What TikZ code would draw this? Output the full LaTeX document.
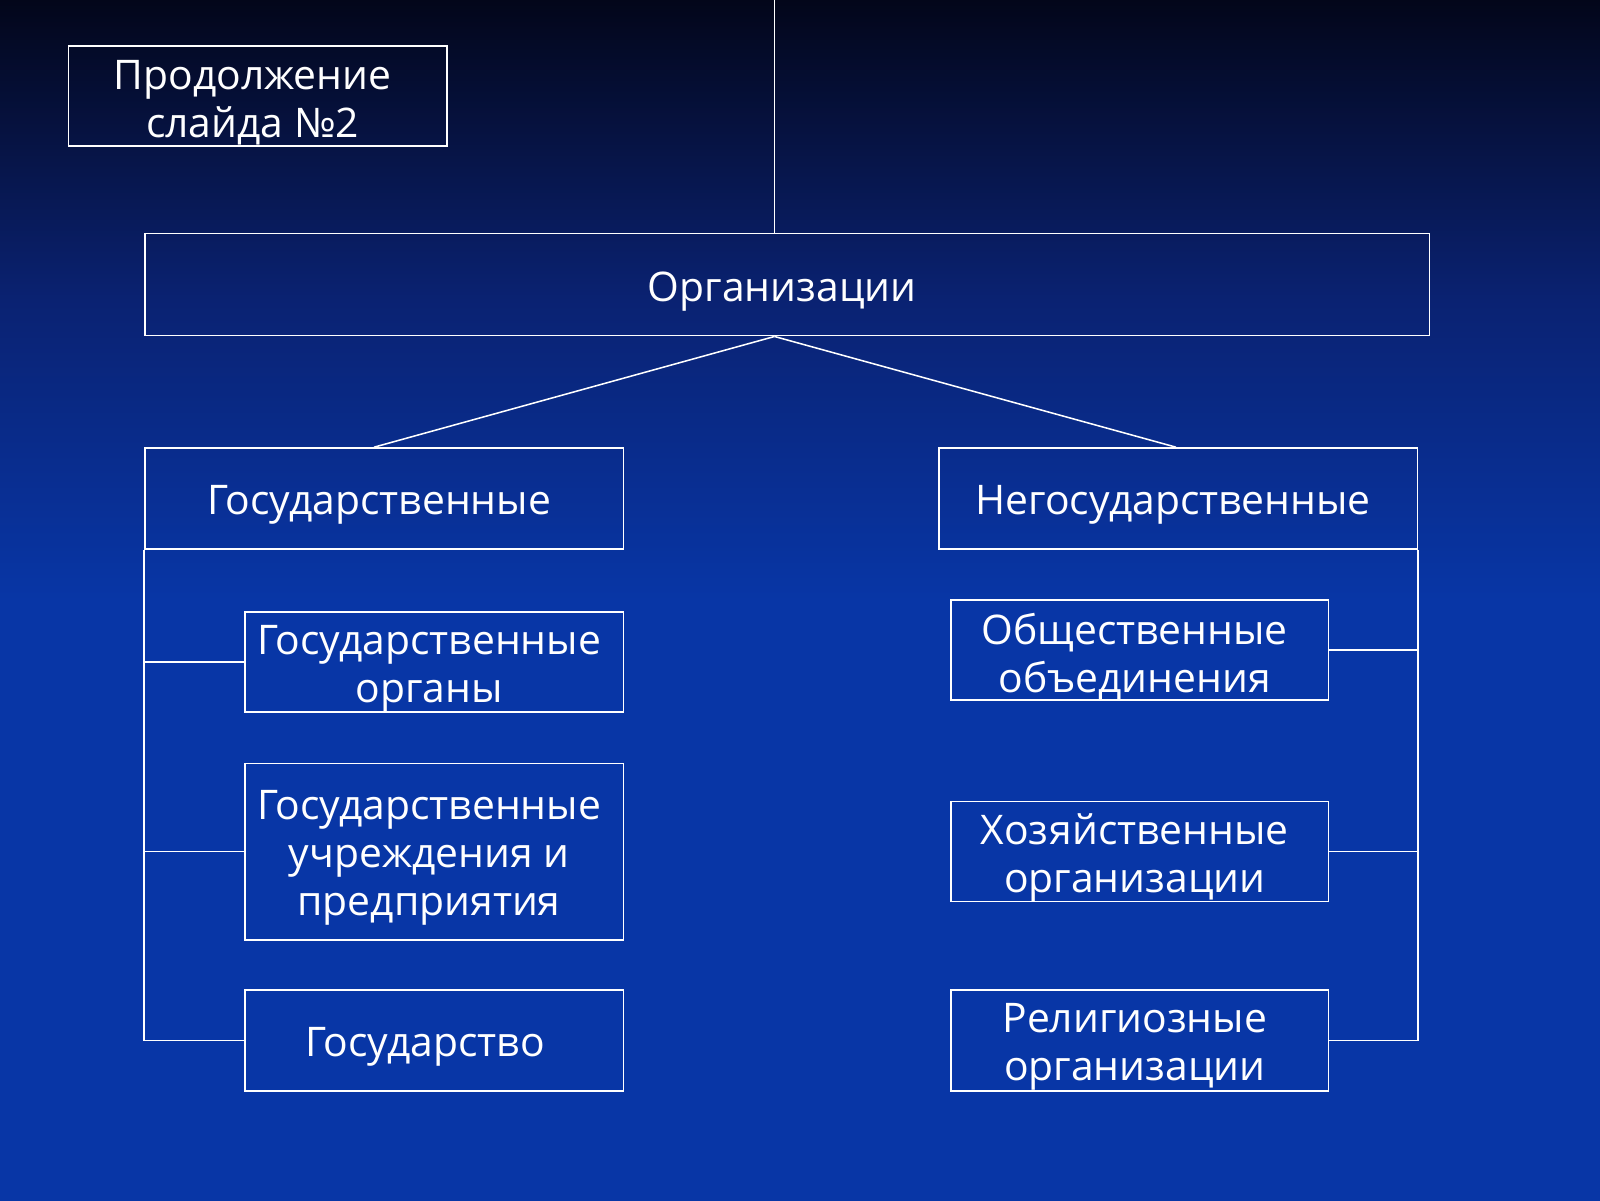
\documentclass[tikz,border=0pt]{standalone}
\usepackage{fontspec}
\setmainfont{Open Sans}
\usetikzlibrary{calc}
\definecolor{bgtop}{HTML}{03061A}
\definecolor{bgmid}{HTML}{0A2272}
\definecolor{bgbot}{HTML}{0836A6}
\pgfdeclareverticalshading{slidebg}{100bp}{color(0bp)=(bgbot); color(50bp)=(bgbot); color(62.5bp)=(bgmid); color(75bp)=(bgtop); color(100bp)=(bgtop)}
\begin{document}
\begin{tikzpicture}[x=1pt,y=-1pt,
  box/.style={draw=white, line width=1.5pt, inner sep=0pt},
  txt/.style={text=white, inner sep=0pt, align=center, font=\fontsize{40}{47}\selectfont},
  conn/.style={draw=white, line width=1.5pt}]
\shade[shading=slidebg] (0,0) rectangle (1568,1176);
\useasboundingbox (0,0) rectangle (1568,1176);
% boxes
\node[box, minimum width=371pt, minimum height=98pt] (title) at (252.5,94) {};
\node[box, minimum width=1259pt, minimum height=100pt] (org) at (771.5,279) {};
\node[box, minimum width=469pt, minimum height=99pt] (gos) at (376.5,488.5) {};
\node[box, minimum width=469pt, minimum height=99pt] (ngos) at (1154.5,488.5) {};
\node[box, minimum width=371pt, minimum height=98pt] (go) at (425.5,649) {};
\node[box, minimum width=371pt, minimum height=173pt] (gu) at (425.5,834.5) {};
\node[box, minimum width=371pt, minimum height=99pt] (gd) at (425.5,1019.5) {};
\node[box, minimum width=370pt, minimum height=98pt] (oo) at (1117,637) {};
\node[box, minimum width=370pt, minimum height=98pt] (ho) at (1117,834.5) {};
\node[box, minimum width=370pt, minimum height=99pt] (ro) at (1117,1019.5) {};
% texts
\node[txt] (titlet) at ($(title)+(-5,6.5)$) {Продолжение\\слайда №2};
\node[txt] (orgt) at ($(org)+(-5,6.5)$) {Организации};
\node[txt] (gost) at ($(gos)+(-5,6.5)$) {Государственные};
\node[txt] (ngost) at ($(ngos)+(-5,6.5)$) {Негосударственные};
\node[txt] (got) at ($(go)+(-5,6.5)$) {Государственные\\органы};
\node[txt] (gut) at ($(gu)+(-5,6.5)$) {Государственные\\учреждения и\\предприятия};
\node[txt] (gdt) at ($(gd)+(-9,6.5)$) {Государство};
\node[txt] (oot) at ($(oo)+(-5,6.5)$) {Общественные\\объединения};
\node[txt] (hot) at ($(ho)+(-5,6.5)$) {Хозяйственные\\организации};
\node[txt] (rot) at ($(ro)+(-5,6.5)$) {Религиозные\\организации};
% connectors
\coordinate (top) at (759,0);
\draw[conn] (top) -- (top |- org.north);
\draw[conn] (top |- org.south) -- ($(gos.north)+(-10,0)$);
\draw[conn] (top |- org.south) -- ($(ngos.north)+(-2,0)$);
\draw[conn] (gos.south west) -- (gos.south west |- gd.west) -- (gd.west);
\draw[conn] (gos.south west |- go.west) -- (go.west);
\draw[conn] (gos.south west |- gu.west) -- (gu.west);
\draw[conn] (ngos.south east) -- (ngos.south east |- ro.east) -- (ro.east);
\draw[conn] (ngos.south east |- oo.east) -- (oo.east);
\draw[conn] (ngos.south east |- ho.east) -- (ho.east);
\end{tikzpicture}
\end{document}
